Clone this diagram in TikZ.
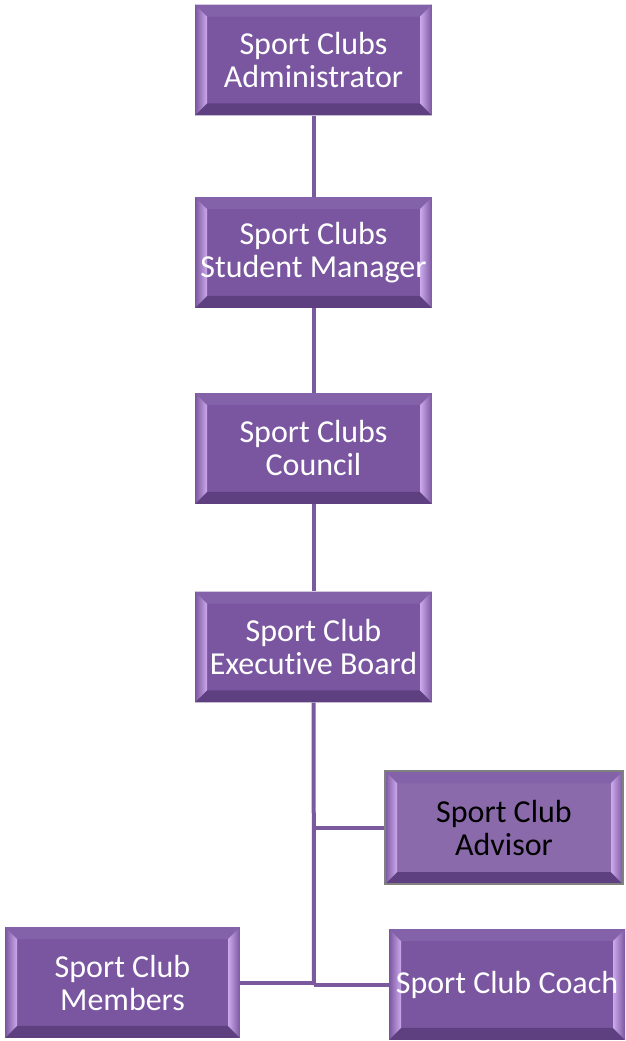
\documentclass[tikz,border=0pt]{standalone}
\usepackage{fontspec}
\setmainfont{Carlito}[Ligatures=NoCommon]
\usetikzlibrary{positioning, calc}
\definecolor{boxfill}{HTML}{7A56A0}
\definecolor{boxtop}{HTML}{8462AA}
\definecolor{boxdark}{HTML}{5E3F80}
\definecolor{boxlight}{HTML}{CDA9EC}
\definecolor{advfill}{HTML}{8A6AAA}
\definecolor{linkcol}{HTML}{7A5A9C}
\newcommand{\bevel}{
  \coordinate (bsw) at (path picture bounding box.south west);
  \coordinate (bse) at (path picture bounding box.south east);
  \coordinate (bnw) at (path picture bounding box.north west);
  \coordinate (bne) at (path picture bounding box.north east);
  \fill[boxtop] (bnw) -- (bne) -- ($(bne)+(-9pt,-9pt)$) -- ($(bnw)+(9pt,-9pt)$) -- cycle;
  \fill[boxdark] (bsw) -- (bse) -- ($(bse)+(-9pt,9pt)$) -- ($(bsw)+(9pt,9pt)$) -- cycle;
  \shade[left color=boxfill, right color=boxlight] (bnw) -- (bsw) -- ($(bsw)+(9pt,9pt)$) -- ($(bnw)+(9pt,-9pt)$) -- cycle;
  \shade[left color=boxlight, right color=boxfill] (bne) -- (bse) -- ($(bse)+(-9pt,9pt)$) -- ($(bne)+(-9pt,-9pt)$) -- cycle;
}
\tikzstyle{rolebox}=[fill=boxfill, minimum width=177.75pt, minimum height=83pt, inner sep=0pt,
  align=center, text=white, font=\fontsize{24}{24.75}\selectfont, path picture={\bevel}]
\tikzstyle{link}=[draw=linkcol, line width=3pt]

\begin{document}
\begin{tikzpicture}[x=0.75pt, y=-0.75pt]
    \useasboundingbox (0,0) rectangle (625,1041);

    \node [rolebox](adm) at (313.5,60) {Sport Clubs\\Administrator};
    \node [rolebox](stm) at (313.5,252.5) {Sport Clubs\\Student Manager};
    \node [rolebox](cnl) at (313.5,448.5) {Sport Clubs\\Council};
    \node [rolebox](exb) at (313.5,647) {Sport Club\\Executive Board};
    \node [rolebox, fill=advfill, text=black, draw=gray, line width=1pt,
      minimum width=178.5pt, minimum height=84.75pt](adv) at (504,827.5) {Sport Club\\Advisor};
    \node [rolebox, minimum width=176.25pt](mem) at (122.5,982.5) {Sport Club\\Members};
    \node [rolebox, minimum width=177pt](coa) at (507,984.5) {Sport Club Coach};
    \coordinate (jct) at (314,985);

    \path [link] (adm) -- (stm);
    \path [link] (stm) -- (cnl);
    \path [link] (cnl) -- (exb);
    \path [link] (exb) -- (jct);
    \path [link] (adv) -- (adv -| jct);
    \path [link] (mem) -- (mem -| jct);
    \path [link] (coa) -- (coa -| jct);
\end{tikzpicture}
\end{document}
